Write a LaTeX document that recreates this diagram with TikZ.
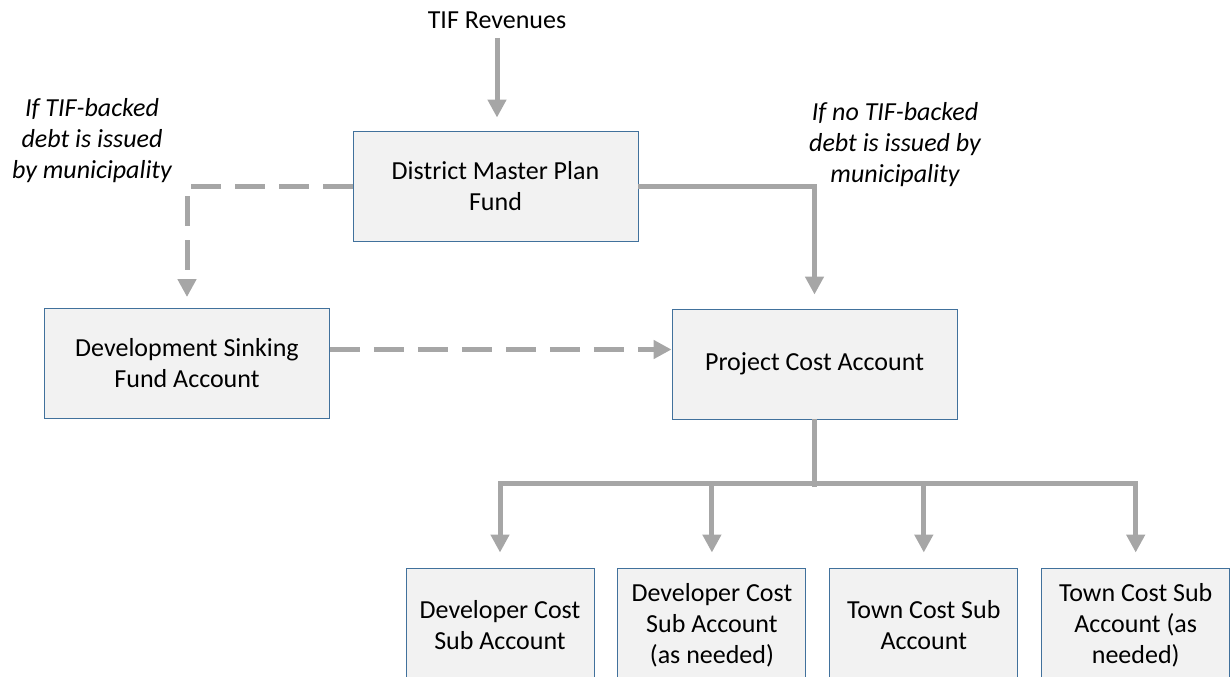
\documentclass[tikz,border=0pt]{standalone}
\usepackage{fontspec}
\setmainfont{Carlito}
\usetikzlibrary{positioning,arrows.meta}
\definecolor{edgeblue}{RGB}{65,113,156}
\definecolor{boxgray}{RGB}{242,242,242}
\definecolor{flowgray}{RGB}{166,166,166}

\begin{document}
\begin{tikzpicture}
            [x=1pt,y=1pt,
            font=\fontsize{26}{31}\selectfont,
            box/.style={draw=edgeblue,line width=0.9pt,fill=boxgray,align=center,
                minimum width=285pt,minimum height=110pt,inner sep=0pt},
            sub/.style={box,minimum width=188pt,minimum height=115pt},
            note/.style={align=center,font=\fontsize{26}{31}\selectfont\itshape},
            flow/.style={draw=flowgray,line width=5pt,-{Triangle[length=18pt,width=18pt]}},
            maybe/.style={flow,dash pattern=on 30pt off 14pt}]
            \useasboundingbox (0,0) rectangle (1231,-677);
            \node(rev) at (497,-20) {TIF Revenues};
            \node[box](dmpf) at (495.5,-186) {District Master Plan\\Fund};
            \node[box](dsfa) at (187,-363.5) {Development Sinking\\Fund Account};
            \node[box](pca) at (814.5,-364) {Project Cost Account};
            \node[note](yes) at (92,-141) {If TIF-backed\\debt is issued\\by municipality};
            \node[note](no) at (895,-145) {If no TIF-backed\\debt is issued by\\municipality};
            \node[sub](dev) at (500,-625.5) {Developer Cost\\Sub Account};
            \node[sub](devx)[right =23pt of dev] {Developer Cost\\Sub Account\\(as needed)};
            \node[sub](town)[right =23pt of devx] {Town Cost Sub\\Account};
            \node[sub](townx)[right =23pt of town] {Town Cost Sub\\Account (as\\needed)};
            \coordinate(split) at ([yshift=-64pt]pca.south);
            \draw[flow,shorten <=6pt,shorten >=13pt] (rev.south) -- (rev.south |- dmpf.north);
            \draw[maybe,shorten >=11pt] (dmpf.west) -| (dsfa.north);
            \draw[flow,shorten >=14pt] (dmpf.east) -| (pca.north);
            \draw[maybe] ([yshift=14pt]dsfa.east) -- ([yshift=14pt]dsfa.east -| pca.west);
            \draw[flowgray,line width=5pt] (pca.south) -- ([yshift=-4pt]split);
            \draw[flowgray,line width=5pt,line cap=rect] (dev.north |- split) -- (townx.north |- split);
            \foreach \s in {dev,devx,town,townx}
                \draw[flow,shorten >=15pt] (\s.north |- split) -- (\s.north);
        \end{tikzpicture}
\end{document}
